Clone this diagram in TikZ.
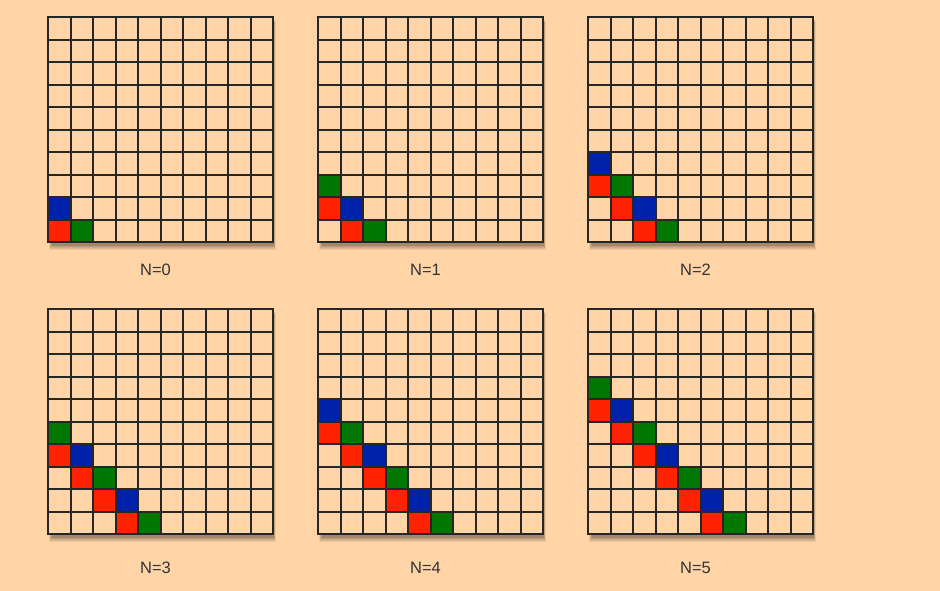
\documentclass[tikz,border=0pt]{standalone}
\usepackage{fontspec}
\setmainfont{Liberation Sans}
\definecolor{bg}{HTML}{FFD5A8}
\definecolor{cred}{HTML}{FF2200}
\definecolor{cblue}{HTML}{0022AA}
\definecolor{cgreen}{HTML}{007700}
\tikzset{
  gridline/.style={line width=1.7pt, draw=black!85, line cap=rect},
  celltext/.style={font=\fontsize{16.5}{19}\selectfont, text=black!80, inner sep=0pt},
}
\newcommand{\cellfill}[3]{% color, col, row (row from bottom)
  \pgfmathsetmacro{\xa}{round(#2*22.5)}\pgfmathsetmacro{\xb}{round((#2+1)*22.5)}%
  \pgfmathsetmacro{\ya}{round((9-#3)*22.5)}\pgfmathsetmacro{\yb}{round((10-#3)*22.5)}%
  \fill[#1] (\xa,\ya) rectangle (\xb,\yb);}
\begin{document}
\begin{tikzpicture}[x=1pt,y=-1pt]
\fill[bg] (0,0) rectangle (940,591);
\useasboundingbox (0,0) rectangle (940,591);
\foreach \N/\gx/\gy/\ly in {0/48/17/269.5, 1/318/17/269.5, 2/588/17/269.5, 3/48/309/567.5, 4/318/309/567.5, 5/588/309/567.5}{
  \begin{scope}[shift={(\gx,\gy)}]
    % soft shadow
    \foreach \k in {0,...,5}{
      \fill[black, opacity=0.07] ({1+0.5*\k},{3+0.6*\k}) rectangle ({225+2.5-0.3*\k},{225+8-0.9*\k});
    }
    \fill[bg] (0,0) rectangle (225,225);
    % red diagonal
    \foreach \c in {0,...,\N}{
      \pgfmathtruncatemacro{\r}{\N-\c}
      \cellfill{cred}{\c}{\r}
    }
    % second diagonal
    \pgfmathtruncatemacro{\M}{\N+1}
    \foreach \j in {0,...,\M}{
      \pgfmathtruncatemacro{\c}{\M-\j}
      \pgfmathtruncatemacro{\odd}{mod(\j,2)}
      \ifnum\odd=0 \cellfill{cgreen}{\c}{\j}\else\cellfill{cblue}{\c}{\j}\fi
    }
    \foreach \i in {0,...,10}{
      \pgfmathsetmacro{\p}{round(\i*22.5)}
      \draw[gridline] (\p,0) -- (\p,225);
      \draw[gridline] (0,\p) -- (225,\p);
    }
  \end{scope}
  \node[celltext] (label\N) at ({\gx+107.5},\ly) {N=\N};
}
\end{tikzpicture}
\end{document}
